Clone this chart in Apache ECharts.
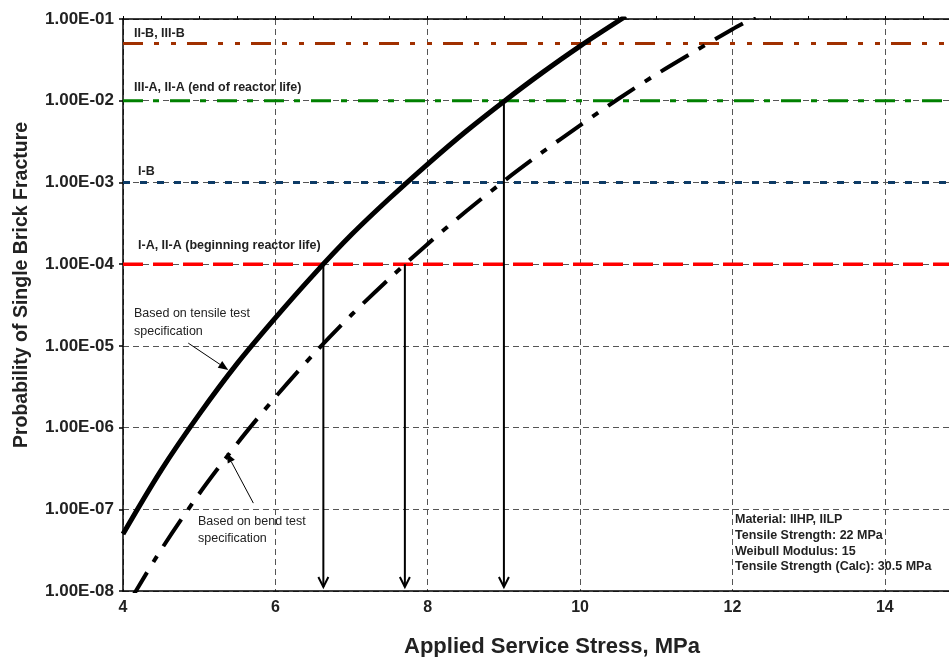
<!DOCTYPE html>
<html>
<head>
<meta charset="utf-8">
<script src="https://cdn.jsdelivr.net/npm/echarts@6/dist/echarts.min.js"></script>
<style>html,body{margin:0;padding:0;background:#fff}#c{width:949px;height:657px}</style>
</head>
<body>
<div id="c"></div>
<script>
// ---- data ----
const stressTensile = [4.0, 4.5, 5.0, 5.5, 6.0, 6.5, 7.0, 7.5, 8.0, 8.5, 9.0, 9.5, 10.0, 10.6];
const probTensile   = [5.0e-8, 3.0e-7, 1.45e-6, 6.1e-6, 2.2e-5, 7.4e-5, 2.3e-4, 6.4e-4, 1.68e-3, 4.2e-3, 9.8e-3, 2.19e-2, 4.66e-2, 0.108];
const stressBend = [4.1, 4.5, 5.0, 5.5, 6.0, 6.5, 7.0, 7.5, 8.0, 8.5, 9.0, 9.5, 10.0, 10.5, 11.0, 11.5, 12.0, 12.3];
const probBend   = [7.8e-9, 3.2e-8, 1.55e-7, 6.4e-7, 2.36e-6, 7.9e-6, 2.4e-5, 6.7e-5, 1.77e-4, 4.4e-4, 1.04e-3, 2.33e-3, 5.0e-3, 1.05e-2, 2.1e-2, 4.0e-2, 7.5e-2, 0.106];
const refLevels = [0.05, 0.01, 0.001, 0.0001];
const refLabels = ['II-B, III-B', 'III-A, II-A (end of reactor life)', 'I-B', 'I-A, II-A (beginning reactor life)'];
const arrowStress = [6.63, 7.70, 9.0];
const arrowFromProb = [1e-4, 1e-4, 1e-2];
const xTickLabels = ['4', '6', '8', '10', '12', '14'];
const yTickLabels = ['1.00E-08','1.00E-07','1.00E-06','1.00E-05','1.00E-04','1.00E-03','1.00E-02','1.00E-01'];
const infoLines = ['Material: IIHP, IILP', 'Tensile Strength: 22 MPa', 'Weibull Modulus: 15', 'Tensile Strength (Calc): 30.5 MPa'];
// annotation arrows: [fromStress, fromProb, toStress, toProb]
const noteArrowTensile = [4.857, 1.08e-5, 5.382, 5.07e-6];
const noteArrowBend = [5.711, 1.19e-7, 5.36, 4.9e-7];

// ---- styles ----
const FONT = 'Liberation Sans, Arial, sans-serif';
const refStyles = [
  {color: '#a03000', width: 3, type: [20, 11, 5, 12, 5, 11]},
  {color: '#008000', width: 3, type: [20, 10, 6, 11]},
  {color: '#0d3b66', width: 3, type: [7, 10]},
  {color: '#ff0000', width: 3.5, type: [20, 10]}
];
const X_MIN = 4, X_MAX = 15, Y_MIN = 1e-8, Y_MAX = 0.1;

const chart = echarts.init(document.getElementById('c'), null, {renderer: 'canvas'});

function yLabel(v) {
  const e = Math.round(Math.log10(v));
  const idx = e + 8;
  return yTickLabels[idx] !== undefined ? yTickLabels[idx] : '';
}
function xLabel(v) {
  const s = String(v);
  return xTickLabels.indexOf(s) >= 0 ? s : '';
}

const series = [];
refLevels.forEach((lv, i) => {
  series.push({
    type: 'line', xAxisIndex: 0, yAxisIndex: 0, symbol: 'none', silent: true, z: 3,
    data: [[X_MIN, lv], [X_MAX, lv]],
    lineStyle: {color: refStyles[i].color, width: refStyles[i].width, type: refStyles[i].type}
  });
});
series.push({
  type: 'line', xAxisIndex: 0, yAxisIndex: 0, symbol: 'none', smooth: 0.3, z: 5, clip: true,
  data: stressTensile.map((x, i) => [x, probTensile[i]]),
  lineStyle: {color: '#000', width: 5, cap: 'butt'}
});
series.push({
  type: 'line', xAxisIndex: 0, yAxisIndex: 0, symbol: 'none', smooth: 0.3, z: 5, clip: true,
  data: stressBend.map((x, i) => [x, probBend[i]]),
  lineStyle: {color: '#000', width: 4, type: [32, 12, 7, 12], cap: 'butt'}
});

chart.setOption({
  animation: false,
  backgroundColor: '#fff',
  textStyle: {fontFamily: FONT},
  grid: {left: 123, right: -12, top: 19, bottom: 66, containLabel: false, outerBoundsMode: 'none'},
  xAxis: [
    {
      type: 'value', position: 'bottom', min: X_MIN, max: X_MAX, interval: 2,
      axisLine: {show: true, onZero: false, lineStyle: {color: '#000', width: 1.5}},
      axisTick: {show: false},
      axisLabel: {formatter: xLabel, color: '#222', fontSize: 16, fontWeight: 'bold', fontFamily: FONT, margin: 9},
      splitLine: {show: true, lineStyle: {color: '#555', width: 1, type: [6, 4]}}
    },
    {
      type: 'value', position: 'top', min: X_MIN, max: X_MAX, interval: 0.5,
      axisLine: {show: true, onZero: false, lineStyle: {color: '#000', width: 1.5}},
      axisTick: {show: true, inside: false, length: 3, lineStyle: {color: '#000', width: 1}},
      axisLabel: {show: false},
      splitLine: {show: false}
    }
  ],
  yAxis: {
    type: 'log', logBase: 10, min: Y_MIN, max: Y_MAX, splitNumber: 7,
    axisLine: {show: true, onZero: false, lineStyle: {color: '#000', width: 1.5}},
    axisTick: {show: true, inside: false, length: 4, lineStyle: {color: '#000', width: 1.5}},
    axisLabel: {formatter: yLabel, color: '#222', fontSize: 17, fontWeight: 'bold', fontFamily: FONT, margin: 9},
    splitLine: {show: true, lineStyle: {color: '#555', width: 1, type: [6, 4]}},
    minorTick: {show: false}
  },
  series: series
});

// ---- annotations built through the chart's scales ----
function px(x, y) { return chart.convertToPixel({xAxisIndex: 0, yAxisIndex: 0}, [x, y]); }
const graphics = [];
const bottomY = px(X_MIN, Y_MIN)[1];

arrowStress.forEach((x, i) => {
  const p0 = px(x, arrowFromProb[i]);
  const tipY = bottomY - 4;
  graphics.push({type: 'line', z: 10, shape: {x1: p0[0], y1: p0[1], x2: p0[0], y2: tipY},
    style: {stroke: '#000', lineWidth: 2}});
  graphics.push({type: 'polyline', z: 10, shape: {points: [[p0[0] - 5, tipY - 10], [p0[0], tipY], [p0[0] + 5, tipY - 10]]},
    style: {stroke: '#000', lineWidth: 2, fill: null}});
});

function noteArrow(a) {
  const s = px(a[0], a[1]), e = px(a[2], a[3]);
  const dx = e[0] - s[0], dy = e[1] - s[1], L = Math.hypot(dx, dy);
  const ux = dx / L, uy = dy / L, len = 10, hw = 4;
  const bx = e[0] - ux * len, by = e[1] - uy * len;
  graphics.push({type: 'line', z: 10, shape: {x1: s[0], y1: s[1], x2: bx, y2: by}, style: {stroke: '#000', lineWidth: 1}});
  graphics.push({type: 'polygon', z: 10, shape: {points: [[e[0], e[1]], [bx - uy * hw, by + ux * hw], [bx + uy * hw, by - ux * hw]]},
    style: {fill: '#000'}});
}
noteArrow(noteArrowTensile);
noteArrow(noteArrowBend);

// reference line labels
const refLabelPos = [[134, 34], [134, 88], [138, 172], [138, 246]];
refLabels.forEach((t, i) => {
  graphics.push({type: 'text', z: 11, x: refLabelPos[i][0], y: refLabelPos[i][1],
    style: {text: t, fill: '#222', font: 'bold 12.5px ' + FONT, verticalAlign: 'middle'}});
});

graphics.push({type: 'text', z: 11, x: 134, y: 313.3 - 9.25,
  style: {text: 'Based on tensile test\nspecification', fill: '#222', font: '12.5px ' + FONT, lineHeight: 18.5, verticalAlign: 'top'}});
graphics.push({type: 'text', z: 11, x: 198, y: 521.7 - 8.3,
  style: {text: 'Based on bend test\nspecification', fill: '#222', font: '12.5px ' + FONT, lineHeight: 16.6, verticalAlign: 'top'}});
graphics.push({type: 'text', z: 11, x: 735, y: 520 - 7.8,
  style: {text: infoLines.join('\n'), fill: '#222', font: 'bold 12.5px ' + FONT, lineHeight: 15.6, verticalAlign: 'top'}});

graphics.push({type: 'text', z: 11, x: 552, y: 647,
  style: {text: 'Applied Service Stress, MPa', fill: '#222', font: 'bold 22px ' + FONT, align: 'center', verticalAlign: 'middle'}});
graphics.push({type: 'text', z: 11, x: 22, y: 285, rotation: Math.PI / 2,
  style: {text: 'Probability of Single Brick Fracture', fill: '#222', font: 'bold 19.5px ' + FONT, align: 'center', verticalAlign: 'middle'}});

chart.setOption({graphic: graphics});
</script>
</body>
</html>
